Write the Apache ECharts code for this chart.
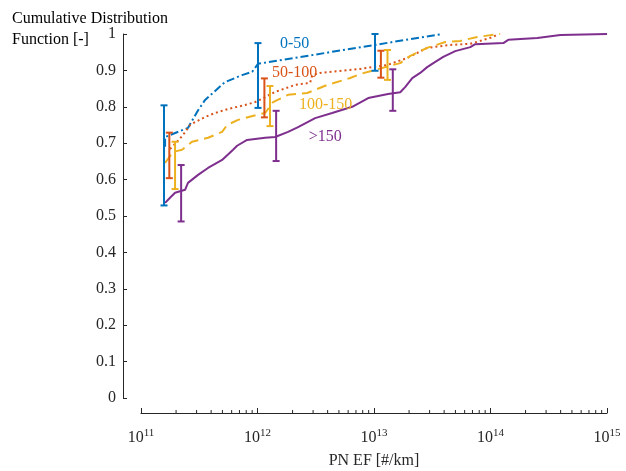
<!DOCTYPE html>
<html><head><meta charset="utf-8">
<script src="https://cdn.jsdelivr.net/npm/echarts@6/dist/echarts.min.js"></script>
<style>html,body{margin:0;padding:0;background:#fff}#c{width:626px;height:471px}</style>
</head><body><div id="c"></div>
<script>
// ---- Data ----
const seriesNames = ['0-50', '50-100', '100-150', '>150'];

const x_0_50 = [1.61e11, 1.61e11, 2.53e11, 3.03e11, 3.55e11, 5.27e11, 7.37e11, 8.99e11, 1.01e12, 3.85e13];
const y_0_50 = [0.690, 0.717, 0.742, 0.786, 0.819, 0.868, 0.887, 0.896, 0.918, 1.0];

const x_50_100 = [1.775e11, 2.04e11, 2.30e11, 2.64e11, 2.91e11, 3.55e11, 4.32e11, 5.59e11, 7.83e11, 9.54e11, 1.095e12, 1.417e12, 2.10e12, 2.83e12, 2.95e12, 3.45e12, 7.61e12, 1.30e13, 1.93e13, 2.86e13, 4.51e13, 6.71e13, 1.057e14, 1.167e14];
const y_50_100 = [0.684, 0.704, 0.723, 0.750, 0.758, 0.772, 0.783, 0.794, 0.805, 0.813, 0.822, 0.841, 0.860, 0.866, 0.887, 0.893, 0.904, 0.915, 0.934, 0.962, 0.970, 0.973, 0.992, 1.0];

const x_100_150 = [1.61e11, 1.884e11, 2.25e11, 2.74e11, 3.76e11, 4.97e11, 5.48e11, 6.81e11, 9.92e11, 1.163e12, 1.36e12, 1.83e12, 2.67e12, 3.96e12, 6.25e12, 7.61e12, 1.46e13, 1.68e13, 2.05e13, 2.86e13, 4.09e13, 5.50e13, 7.70e13, 1.21e14];
const y_100_150 = [0.646, 0.676, 0.682, 0.704, 0.715, 0.731, 0.750, 0.764, 0.778, 0.783, 0.813, 0.833, 0.838, 0.860, 0.879, 0.890, 0.915, 0.920, 0.940, 0.962, 0.978, 0.981, 0.992, 1.0];

const x_150 = [1.61e11, 1.775e11, 1.96e11, 2.39e11, 2.53e11, 3.09e11, 3.76e11, 4.97e11, 6.17e11, 6.68e11, 8.14e11, 1.163e12, 1.417e12, 1.83e12, 2.23e12, 3.125e12, 4.37e12, 6.50e12, 8.92e12, 1.32e13, 1.68e13, 1.85e13, 2.13e13, 2.49e13, 2.86e13, 3.23e13, 3.93e13, 4.98e13, 6.71e13, 7.40e13, 1.29e14, 1.42e14, 2.52e14, 3.98e14, 1e15];
const y_150 = [0.536, 0.550, 0.564, 0.572, 0.591, 0.613, 0.632, 0.654, 0.682, 0.693, 0.709, 0.715, 0.717, 0.731, 0.744, 0.769, 0.783, 0.800, 0.824, 0.835, 0.840, 0.854, 0.879, 0.893, 0.909, 0.920, 0.937, 0.953, 0.964, 0.972, 0.975, 0.984, 0.989, 0.997, 1.0];

// error bars: x position, lower, upper
const err_0_50_x = [1.576e11, 1.01e12, 1.02e13];
const err_0_50_lo = [0.529, 0.797, 0.899];
const err_0_50_hi = [0.804, 0.975, 1.0];
const err_50_100_x = [1.75e11, 1.146e12, 1.146e13];
const err_50_100_lo = [0.604, 0.771, 0.880];
const err_50_100_hi = [0.729, 0.878, 0.954];
const err_100_150_x = [1.96e11, 1.28e12, 1.306e13];
const err_100_150_lo = [0.574, 0.747, 0.874];
const err_100_150_hi = [0.704, 0.857, 0.956];
const err_150_x = [2.21e11, 1.445e12, 1.45e13];
const err_150_lo = [0.485, 0.651, 0.789];
const err_150_hi = [0.640, 0.789, 0.903];

// in-plot label anchors (data coords)
const labelX = [2.08e12, 2.08e12, 3.85e12, 3.81e12];
const labelY = [0.973, 0.894, 0.806, 0.717];

// axis ticks
const xMin = 1e11, xMax = 1e15;
const xMinorMantissas = [2, 3, 4, 5, 6, 7, 8, 9];
const xMinorExponents = [11, 12, 13, 14];
const yTickInterval = 0.1;

// ---- Styling ----
const colors = ['#0072BD', '#D95319', '#EDB120', '#7E2F8E'];
const dashes = [[8, 3, 2, 3], [2, 3], [10, 6], 'solid'];
const FONT = '"Liberation Serif", "Times New Roman", serif';
const AX = '#262626';
const X_OFFSET = 15;

const lineX = [x_0_50, x_50_100, x_100_150, x_150];
const lineY = [y_0_50, y_50_100, y_100_150, y_150];
const errX = [err_0_50_x, err_50_100_x, err_100_150_x, err_150_x];
const errLo = [err_0_50_lo, err_50_100_lo, err_100_150_lo, err_150_lo];
const errHi = [err_0_50_hi, err_50_100_hi, err_100_150_hi, err_150_hi];

const minorTicks = [];
xMinorExponents.forEach(e => xMinorMantissas.forEach(m => minorTicks.push([m * Math.pow(10, e), 0])));

const series = [];
seriesNames.forEach((name, i) => {
  series.push({
    name, type: 'line', showSymbol: false, symbol: 'none', animation: false,
    data: lineX[i].map((x, k) => [x, lineY[i][k]]),
    lineStyle: { color: colors[i], width: 2, type: dashes[i] },
    z: 2
  });
});
seriesNames.forEach((name, i) => {
  series.push({
    name: name + ' err', type: 'custom', animation: false, z: 3,
    data: errX[i].map((x, k) => [x, errLo[i][k], errHi[i][k]]),
    encode: { x: 0, y: [1, 2] },
    renderItem: (params, api) => {
      const x = api.value(0);
      const p1 = api.coord([x, api.value(1)]);
      const p2 = api.coord([x, api.value(2)]);
      const w = 3.5;
      const style = { stroke: colors[i], lineWidth: 2, fill: null };
      return { type: 'group', children: [
        { type: 'line', shape: { x1: p1[0], y1: p1[1], x2: p2[0], y2: p2[1] }, style },
        { type: 'line', shape: { x1: p1[0] - w, y1: p1[1], x2: p1[0] + w, y2: p1[1] }, style },
        { type: 'line', shape: { x1: p2[0] - w, y1: p2[1], x2: p2[0] + w, y2: p2[1] }, style }
      ]};
    }
  });
});
// in-plot labels
series.push({
  type: 'custom', animation: false, z: 4, silent: true,
  data: labelX.map((x, k) => [x, labelY[k], k]),
  renderItem: (params, api) => {
    const k = api.value(2);
    const p = api.coord([api.value(0), api.value(1)]);
    return { type: 'text', x: p[0], y: p[1], style: {
      text: seriesNames[k], fill: colors[k], fontSize: 16, fontFamily: FONT,
      align: 'center', verticalAlign: 'middle' } };
  }
});
// minor ticks of the log axis
series.push({
  type: 'custom', animation: false, z: 1, silent: true, clip: false,
  data: minorTicks,
  renderItem: (params, api) => {
    const p = api.coord([api.value(0), 0]);
    const y = p[1] + X_OFFSET;
    return { type: 'line', shape: { x1: p[0], y1: y, x2: p[0], y2: y - 3 }, style: { stroke: AX, lineWidth: 1 } };
  }
});

const chart = echarts.init(document.getElementById('c'), null, { renderer: 'canvas' });
chart.setOption({
  animation: false,
  backgroundColor: '#fff',
  grid: { left: 141, right: 19, top: 34, bottom: 73, containLabel: false, outerBoundsMode: 'none' },
  xAxis: {
    type: 'log', logBase: 10, min: xMin, max: xMax, offset: X_OFFSET,
    axisLine: { show: true, onZero: false, lineStyle: { color: AX, width: 1 } },
    axisTick: { show: true, inside: true, length: 5, lineStyle: { color: AX } },
    splitLine: { show: false },
    axisLabel: {
      margin: 17, color: AX,
      formatter: v => '{b|10}{e|' + Math.round(Math.log10(v)) + '}',
      rich: {
        b: { fontFamily: FONT, fontSize: 16, color: AX, verticalAlign: 'bottom', lineHeight: 16 },
        e: { fontFamily: FONT, fontSize: 11, color: AX, verticalAlign: 'bottom', padding: [0, 0, 7, 0], lineHeight: 14 }
      }
    },
    name: 'PN EF [#/km]', nameLocation: 'middle', nameGap: 40,
    nameTextStyle: { fontFamily: FONT, fontSize: 16, color: AX }
  },
  yAxis: {
    type: 'value', min: 0, max: 1, interval: yTickInterval, offset: 18,
    axisLine: { show: true, onZero: false, lineStyle: { color: AX, width: 1 } },
    axisTick: { show: true, inside: true, length: 4, lineStyle: { color: AX } },
    splitLine: { show: false },
    axisLabel: { margin: 7, fontFamily: FONT, fontSize: 16, color: AX }
  },
  graphic: [{
    type: 'text', left: 12, top: 8,
    style: { text: 'Cumulative Distribution\nFunction [-]', fontFamily: FONT, fontSize: 16, lineHeight: 21, fill: '#000' }
  }],
  series
});
</script></body></html>
